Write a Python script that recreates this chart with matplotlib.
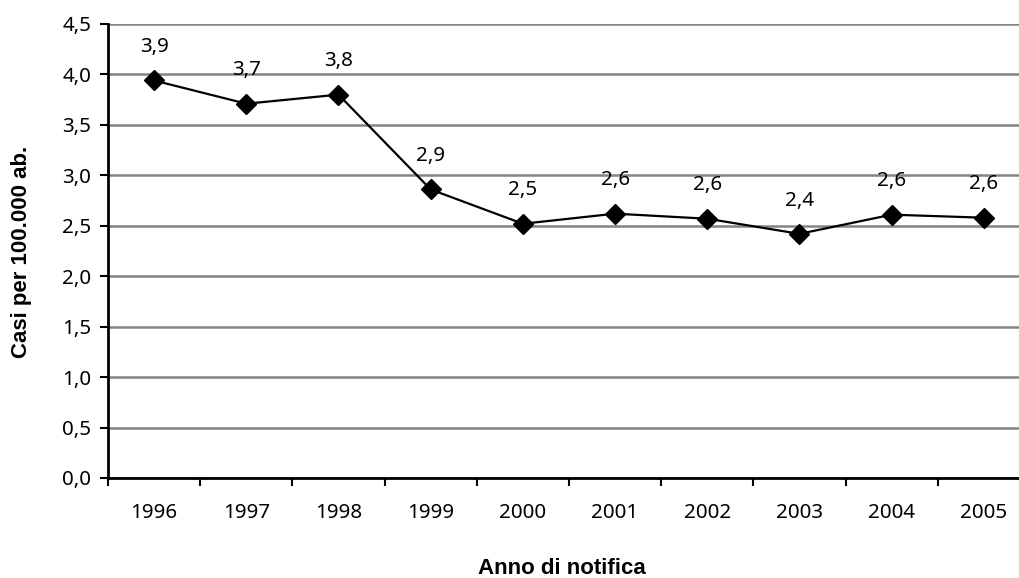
import numpy as np
import matplotlib
matplotlib.use("Agg")
import matplotlib.pyplot as plt
from matplotlib.ticker import FixedLocator, FuncFormatter

# Casi notificati per 100.000 abitanti, 1996-2005
anni = ["1996", "1997", "1998", "1999", "2000", "2001", "2002", "2003", "2004", "2005"]
tassi = [3.94, 3.71, 3.80, 2.86, 2.52, 2.62, 2.57, 2.42, 2.61, 2.58]
y_ticks = [0.0, 0.5, 1.0, 1.5, 2.0, 2.5, 3.0, 3.5, 4.0, 4.5]

W, H = 1020, 578
fig = plt.figure(figsize=(W / 100, H / 100), dpi=100)
# plot area runs slightly past the right edge of the canvas
ax = fig.add_axes([108 / W, 100 / H, 922 / W, 454 / H])

FS = 14.8
x = np.arange(len(anni))

ax.plot(x, tassi, color="black", lw=1.6, marker="D", ms=9.8,
        markerfacecolor="black", markeredgecolor="black", zorder=3, clip_on=False)

for xi, v in zip(x, tassi):
    ax.annotate(f"{v:.1f}".replace(".", ","), (xi, v), xytext=(0, 24),
                textcoords="offset points", ha="center", va="center",
                family="Noto Sans", size=FS)

ax.set_xlim(-0.5, len(anni) - 0.5)
ax.set_ylim(0, 4.5)

# y axis: gridlines and comma decimals
ax.set_yticks(y_ticks)
ax.yaxis.set_major_formatter(FuncFormatter(lambda v, p: f"{v:.1f}".replace(".", ",")))
ax.yaxis.grid(True, color="#848484", lw=1.8)
ax.set_axisbelow(True)
ax.tick_params(axis="y", direction="out", length=6, width=1.5, pad=6)

# x axis: tick marks between categories, labels centred on them
ax.xaxis.set_major_locator(FixedLocator(np.arange(-0.5, len(anni), 1.0)))
ax.xaxis.set_major_formatter(FuncFormatter(lambda v, p: ""))
ax.xaxis.set_minor_locator(FixedLocator(x))
ax.set_xticklabels(anni, minor=True)
ax.tick_params(axis="x", which="major", direction="out", length=6, width=1.5)
ax.tick_params(axis="x", which="minor", length=0, pad=18)

for lab in ax.get_yticklabels() + ax.get_xticklabels(minor=True):
    lab.set_fontfamily("Noto Sans")
    lab.set_fontsize(FS)

for side in ("top", "right"):
    ax.spines[side].set_visible(False)
for side in ("left", "bottom"):
    ax.spines[side].set_linewidth(2)
    ax.spines[side].set_color("black")

fig.text(22 / W, 1 - 252 / H, "Casi per 100.000 ab.", rotation=90, ha="center", va="center",
         family="Liberation Sans", weight="bold", size=16)
fig.text(562 / W, 1 - 568 / H, "Anno di notifica", ha="center", va="center",
         family="Liberation Sans", weight="bold", size=16)

fig.savefig("out.png", dpi=100, facecolor="white")
